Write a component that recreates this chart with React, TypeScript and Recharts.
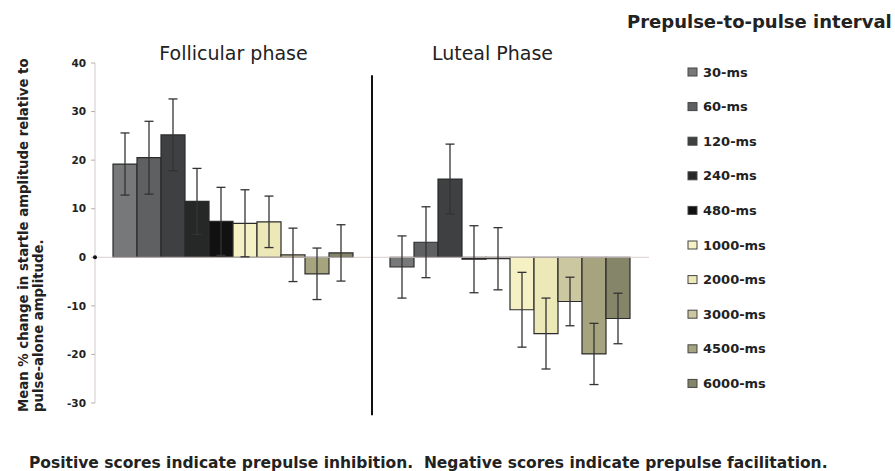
import React from 'react'
import { BarChart, Bar, XAxis, YAxis, ErrorBar, ReferenceLine } from 'recharts'

const phases = ['Follicular phase', 'Luteal Phase']
const intervals = ['30-ms', '60-ms', '120-ms', '240-ms', '480-ms', '1000-ms', '2000-ms', '3000-ms', '4500-ms', '6000-ms']
const colors = ['#76787a', '#5e6062', '#3e4041', '#262827', '#111111', '#f5f1c4', '#ece8b8', '#cbc7a0', '#a6a47f', '#85856a']

// mean % change and error (+/-) per interval
const follicular = [19.2, 20.5, 25.2, 11.5, 7.4, 7.0, 7.3, 0.5, -3.4, 0.9]
const follicularErr = [6.4, 7.5, 7.4, 6.8, 7.0, 6.9, 5.3, 5.5, 5.3, 5.8]
const luteal = [-2.0, 3.1, 16.1, -0.4, -0.3, -10.8, -15.7, -9.1, -19.9, -12.6]
const lutealErr = [6.4, 7.3, 7.2, 6.9, 6.4, 7.7, 7.3, 5.0, 6.3, 5.2]

const yTicks = [-30, -20, -10, 0, 10, 20, 30, 40]

const FONT = '"DejaVu Sans", sans-serif'

const rows = phases.map((phase, p) => {
  const vals = p === 0 ? follicular : luteal
  const errs = p === 0 ? follicularErr : lutealErr
  const row: Record<string, string | number> = { phase }
  intervals.forEach((_, i) => {
    row[`v${i}`] = vals[i]
    row[`e${i}`] = errs[i]
  })
  return row
})

function PhaseTick(props: any) {
  const { x, y, payload, index } = props
  // the luteal title sits a bit left of its bar group
  const dx = index === 1 ? -18 : 0
  return (
    <text x={x + dx} y={y} textAnchor="middle" fontFamily={FONT} fontSize={19} fill="#222">
      {payload.value}
    </text>
  )
}

function ValueTick(props: any) {
  const { x, y, payload } = props
  return (
    <g>
      <text x={x} y={y} dy="0.35em" textAnchor="end" fontFamily={FONT} fontWeight="bold" fontSize={10.5} fill="#222">
        {payload.value}
      </text>
      {payload.value === 0 && <circle cx={x + 9} cy={y} r={2} fill="#111" />}
    </g>
  )
}

export default function App(): JSX.Element {
  return (
    <div style={{ position: 'absolute', left: 0, top: 0, width: 895, height: 471, background: '#fff', fontFamily: FONT }}>
      <BarChart
        width={895}
        height={471}
        data={rows}
        margin={{ top: 33, right: 246, bottom: 68, left: 55 }}
        barCategoryGap={18}
        barGap={0}
      >
        <XAxis
          dataKey="phase"
          orientation="top"
          height={30}
          axisLine={false}
          tickLine={false}
          tickSize={0}
          tickMargin={3}
          tick={<PhaseTick />}
          interval={0}
        />
        <YAxis
          width={40}
          domain={[-30, 40]}
          ticks={yTicks}
          interval={0}
          axisLine={{ stroke: '#d6c9c9', strokeWidth: 1 }}
          tickLine={{ stroke: '#b8aeae', strokeWidth: 1 }}
          tickSize={4}
          tickMargin={5}
          tick={<ValueTick />}
        />
        <ReferenceLine y={0} stroke="#d9cccc" strokeWidth={1} />
        {intervals.map((name, i) => (
          <Bar
            key={name}
            name={name}
            dataKey={`v${i}`}
            fill={colors[i]}
            stroke="#2b2b2b"
            strokeWidth={1.2}
            isAnimationActive={false}
          >
            <ErrorBar dataKey={`e${i}`} width={4.5} stroke="#333" strokeWidth={1.3} direction="y" />
          </Bar>
        ))}
        <ReferenceLine
          segment={[{ x: phases[1], y: 37.5 }, { x: phases[1], y: -32.5 }]}
          position="start"
          stroke="#111"
          strokeWidth={2}
          ifOverflow="visible"
        />
      </BarChart>
      <svg
        width={895}
        height={471}
        style={{ position: 'absolute', left: 0, top: 0, pointerEvents: 'none' }}
        fontFamily={FONT}
      >
        <g transform="translate(28,412) rotate(-90)">
          <text x={0} y={0} fontSize={13.3} fontWeight="bold" fill="#222">
            Mean % change in startle amplitude relative to
          </text>
        </g>
        <g transform="translate(43,412) rotate(-90)">
          <text x={0} y={0} fontSize={13.3} fontWeight="bold" fill="#222">
            pulse-alone amplitude.
          </text>
        </g>
        <text x={627} y={28} fontSize={18} fontWeight="bold" fill="#222">
          Prepulse-to-pulse interval
        </text>
        {intervals.map((name, i) => (
          <g key={name} transform={`translate(688,${72 + i * 34.6})`}>
            <rect x={0} y={-4} width={9} height={8} fill={colors[i]} stroke="#444" strokeWidth={1} />
            <text x={15} y={0} dy="0.35em" fontSize={13} fontWeight="bold" fill="#222">
              {name}
            </text>
          </g>
        ))}
        <text x={29} y={468} fontSize={15.5} fontWeight="bold" fill="#222">
          Positive scores indicate prepulse inhibition.{'\u00a0\u00a0'}Negative scores indicate prepulse facilitation.
        </text>
      </svg>
    </div>
  )
}
